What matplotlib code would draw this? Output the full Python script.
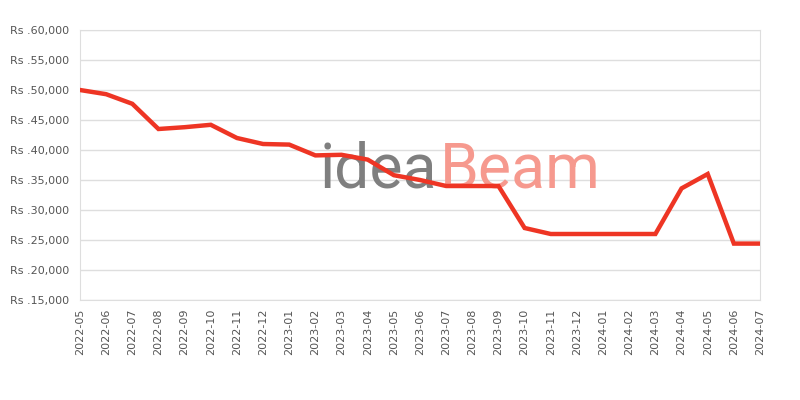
import matplotlib
matplotlib.use("Agg")
import matplotlib.pyplot as plt
from matplotlib.ticker import FuncFormatter

months = [
    "2022-05", "2022-06", "2022-07", "2022-08", "2022-09", "2022-10", "2022-11",
    "2022-12", "2023-01", "2023-02", "2023-03", "2023-04", "2023-05", "2023-06",
    "2023-07", "2023-08", "2023-09", "2023-10", "2023-11", "2023-12", "2024-01",
    "2024-02", "2024-03", "2024-04", "2024-05", "2024-06", "2024-07",
]
prices = [
    50000, 49300, 47700, 43500, 43800, 44200, 42000,
    41000, 40900, 39100, 39200, 38400, 35800, 35000,
    34000, 34000, 34000, 27000, 26000, 26000, 26000,
    26000, 26000, 33600, 36000, 24400, 24400,
]
y_ticks = list(range(15000, 60001, 5000))

LINE_COLOR = "#ee3524"
GRID_COLOR = "#dedede"
TEXT_COLOR = "#555555"

fig = plt.figure(figsize=(8, 4), dpi=100)
ax = fig.add_axes([0.1, 0.25, 0.85, 0.675])

x = list(range(len(months)))
ax.plot(x, prices, color=LINE_COLOR, linewidth=3.2, zorder=3, solid_joinstyle="miter")

ax.set_xlim(0, len(months) - 1)
ax.set_ylim(15000, 60000)
ax.set_yticks(y_ticks)
ax.yaxis.set_major_formatter(FuncFormatter(lambda v, _: f"Rs .{int(v):,}"))
ax.set_xticks(x)
ax.set_xticklabels(months, rotation=90)

ax.grid(axis="y", color=GRID_COLOR, linewidth=1)
ax.set_axisbelow(True)
for s in ax.spines.values():
    s.set_color(GRID_COLOR)
ax.tick_params(length=0, labelsize=8, colors=TEXT_COLOR)
ax.tick_params(axis="y", pad=8)
ax.tick_params(axis="x", pad=6)

# watermark
ax.text(0.352, 0.415, "idea", transform=ax.transAxes, fontsize=45, color="#7f7f7f",
        family="Roboto", va="baseline", ha="left", zorder=1)
ax.text(0.529, 0.415, "Beam", transform=ax.transAxes, fontsize=45, color="#f6998e",
        family="Roboto", va="baseline", ha="left", zorder=1)

fig.savefig("out.png", dpi=100)
